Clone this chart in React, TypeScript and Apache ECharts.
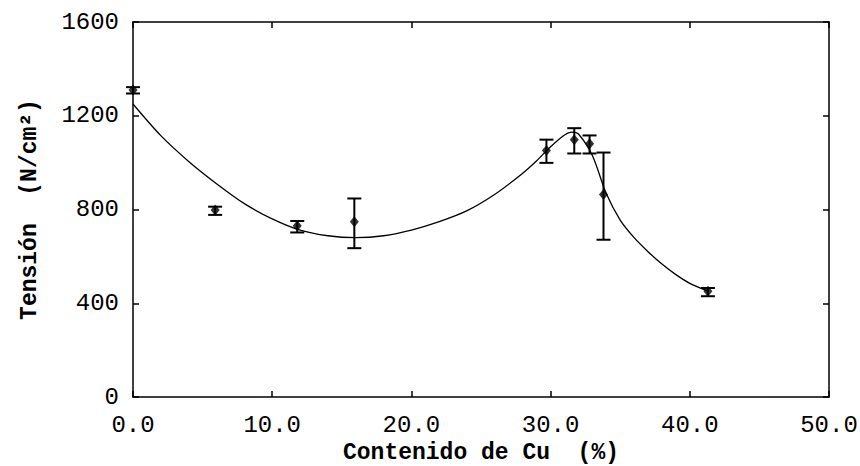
import React, { useEffect, useRef } from "react";
import * as echarts from "echarts";

// Measured points
const cuContent = [0, 5.9, 11.8, 15.9, 29.7, 31.7, 32.8, 33.8, 41.3];
const tension = [1310, 798, 731, 748, 1052, 1098, 1081, 864, 451];
const errLow = [1295, 777, 702, 635, 999, 1039, 1039, 671, 430];
const errHigh = [1322, 812, 751, 847, 1098, 1147, 1116, 1043, 465];

// Fitted curve
const curveX = [0, 2, 4, 6, 8, 10, 12, 14, 16, 18, 20, 22, 24, 26, 28, 29, 30, 31, 31.5, 32, 33, 34, 35, 36, 37, 38, 39, 40, 41.3];
const curveY = [1250, 1115, 1005, 910, 825, 760, 712, 688, 680, 688, 712, 748, 795, 865, 955, 1008, 1068, 1118, 1130, 1122, 1030, 868, 755, 680, 620, 567, 522, 485, 452];

const xTicks = { min: 0, max: 50, interval: 10 };
const yTicks = { min: 0, max: 1600, interval: 400 };

export default function App() {
  const ref = useRef<HTMLDivElement>(null);
  useEffect(() => {
    if (!ref.current) return;
    const chart = echarts.init(ref.current, undefined, { renderer: "svg" });
    const lineStyle = { color: "#000", width: 1.5 };
    const tickStyle = { show: true, inside: true, length: 6, lineStyle: { color: "#000", width: 1.5 } };
    const labelFont = { fontFamily: "Liberation Mono", fontSize: 24, color: "#000" };
    const titleFont = { fontFamily: "Liberation Mono", fontWeight: "bold", color: "#000" };
    chart.setOption({
      animation: false,
      backgroundColor: "#fff",
      grid: { left: 133, right: 31, top: 22, bottom: 69, containLabel: false, outerBoundsMode: "none" },
      xAxis: [
        {
          type: "value",
          ...xTicks,
          position: "bottom",
          axisLine: { show: true, lineStyle },
          axisTick: tickStyle,
          splitLine: { show: false },
          axisLabel: { ...labelFont, margin: 16, formatter: (v: number) => v.toFixed(1) },
          name: "Contenido de Cu  (%)",
          nameLocation: "middle",
          nameGap: 33,
          nameTextStyle: { ...titleFont, fontSize: 23, lineHeight: 23 },
        },
        {
          type: "value",
          ...xTicks,
          position: "top",
          axisLine: { show: true, onZero: false, lineStyle },
          axisTick: tickStyle,
          splitLine: { show: false },
          axisLabel: { show: false },
        },
      ],
      yAxis: [
        {
          type: "value",
          ...yTicks,
          position: "left",
          axisLine: { show: true, lineStyle },
          axisTick: tickStyle,
          splitLine: { show: false },
          axisLabel: { ...labelFont, margin: 14, formatter: (v: number) => String(v) },
          name: "Tensión  (N/cm²)",
          nameLocation: "middle",
          nameGap: 92,
          nameTextStyle: { ...titleFont, fontSize: 23 },
        },
        {
          type: "value",
          ...yTicks,
          position: "right",
          axisLine: { show: true, onZero: false, lineStyle },
          axisTick: tickStyle,
          splitLine: { show: false },
          axisLabel: { show: false },
        },
      ],
      series: [
        {
          type: "line",
          data: curveX.map((x, i) => [x, curveY[i]]),
          smooth: 0.3,
          symbol: "none",
          lineStyle: { color: "#000", width: 1.3 },
          z: 2,
        },
        {
          type: "custom",
          data: cuContent.map((x, i) => [x, errLow[i], errHigh[i]]),
          encode: { x: 0, y: [1, 2] },
          renderItem: (params: any, api: any) => {
            const x = api.value(0);
            const lo = api.coord([x, api.value(1)]);
            const hi = api.coord([x, api.value(2)]);
            const hw = 7;
            const st = { stroke: "#000", lineWidth: 2 };
            return {
              type: "group",
              children: [
                { type: "line", shape: { x1: lo[0], y1: lo[1], x2: hi[0], y2: hi[1] }, style: st },
                { type: "line", shape: { x1: lo[0] - hw, y1: lo[1], x2: lo[0] + hw, y2: lo[1] }, style: st },
                { type: "line", shape: { x1: hi[0] - hw, y1: hi[1], x2: hi[0] + hw, y2: hi[1] }, style: st },
              ],
            };
          },
          z: 3,
        },
        {
          type: "scatter",
          data: cuContent.map((x, i) => [x, tension[i]]),
          symbol: "diamond",
          symbolSize: [9, 11],
          itemStyle: { color: "#000" },
          z: 4,
        },
      ],
    });
    return () => chart.dispose();
  }, []);
  return <div ref={ref} style={{ width: 860, height: 466, position: "absolute", left: 0, top: 0 }} />;
}
